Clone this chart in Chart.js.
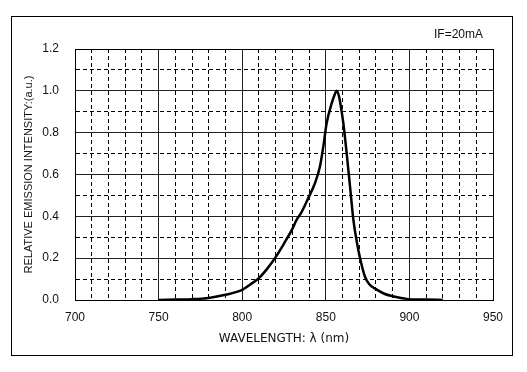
<!DOCTYPE html>
<html>
<head>
    <title>Relative Emission Intensity</title>
    <script src="https://cdn.jsdelivr.net/npm/chart.js"></script>
    <style>
        body {
            margin: 0;
            background-color: #fff;
            font-family: "Liberation Sans", Arial, sans-serif;
        }
        .wrap {
            position: absolute;
            left: 0;
            top: 0;
            width: 527px;
            height: 372px;
        }
        .frame {
            position: absolute;
            left: 11px;
            top: 16px;
            width: 500px;
            height: 338px;
            border: 1px solid #000;
            pointer-events: none;
        }
        .note {
            position: absolute;
            left: 434px;
            top: 27px;
            font-size: 12px;
            color: #111;
        }
    </style>
</head>
<body>
    <div class="wrap">
        <canvas id="spectrumChart"></canvas>
    </div>
    <div class="frame"></div>
    <div class="note">IF=20mA</div>

    <script>
        // wavelength (nm) and relative intensity
        const wavelengths = [750, 760, 770, 780, 790, 800, 805, 810, 815, 820, 825, 830, 832.5, 835.5, 839.5, 843.5, 846.5, 848.5, 850.5, 853.5, 855, 856.5, 858, 859.5, 860.5, 862.5, 864.5, 866.5, 868.5, 870.5, 873.5, 876, 880, 885, 890, 895, 900, 910, 920];
        const intensity = [0.000, 0.002, 0.004, 0.010, 0.025, 0.048, 0.075, 0.105, 0.150, 0.205, 0.270, 0.340, 0.383, 0.420, 0.487, 0.558, 0.638, 0.733, 0.845, 0.940, 0.975, 1.000, 0.970, 0.900, 0.845, 0.700, 0.542, 0.383, 0.280, 0.200, 0.110, 0.075, 0.052, 0.030, 0.018, 0.010, 0.004, 0.002, 0.000];

        const xLabels = ['700', '750', '800', '850', '900', '950'];
        const yLabels = ['0.0', '0.2', '0.4', '0.6', '0.8', '1.0', '1.2'];

        const xMajor = v => Math.round(v) % 50 === 0;
        const yMajor = v => Math.round(v * 10) % 2 === 0;

        function gridColor(isMajor, min, max) {
            return ctx => {
                const v = ctx.tick ? ctx.tick.value : null;
                if (v === null) return '#000';
                if (Math.abs(v - min) < 1e-6 || Math.abs(v - max) < 1e-6) return '#000';
                return isMajor(v) ? '#222' : '#000';
            };
        }
        function gridDash(isMajor) {
            return ctx => {
                if (!ctx.tick) return [];
                return isMajor(ctx.tick.value) ? [] : [4, 3];
            };
        }

        const ctx = document.getElementById('spectrumChart').getContext('2d');
        new Chart(ctx, {
            type: 'line',
            data: {
                datasets: [{
                    data: wavelengths.map((w, i) => ({ x: w, y: intensity[i] })),
                    borderColor: '#000',
                    borderWidth: 2.5,
                    pointRadius: 0,
                    cubicInterpolationMode: 'monotone',
                    fill: false
                }]
            },
            options: {
                responsive: true,
                maintainAspectRatio: false,
                animation: false,
                layout: {
                    padding: { left: 12, top: 49, right: 34, bottom: 0 }
                },
                plugins: {
                    legend: { display: false },
                    tooltip: { enabled: false }
                },
                scales: {
                    x: {
                        type: 'linear',
                        min: 700,
                        max: 950,
                        afterFit: scale => { scale.height = 72; },
                        ticks: {
                            stepSize: 10,
                            autoSkip: false,
                            maxRotation: 0,
                            padding: 10,
                            color: '#111',
                            font: { size: 12, family: '"Liberation Sans", Arial, sans-serif' },
                            callback: v => xMajor(v) ? xLabels[Math.round((v - 700) / 50)] : ''
                        },
                        grid: {
                            drawTicks: false,
                            lineWidth: 1,
                            color: gridColor(xMajor, 700, 950)
                        },
                        border: {
                            color: '#000',
                            width: 1,
                            dash: gridDash(xMajor)
                        },
                        title: {
                            display: true,
                            text: 'WAVELENGTH: λ (nm)',
                            color: '#111',
                            font: { size: 12, family: '"DejaVu Sans", sans-serif' },
                            padding: { top: 0, bottom: 26 }
                        }
                    },
                    y: {
                        min: 0,
                        max: 1.2,
                        afterFit: scale => { scale.width = 63; },
                        ticks: {
                            stepSize: 0.1,
                            autoSkip: false,
                            padding: 16,
                            color: '#111',
                            font: { size: 12, family: '"Liberation Sans", Arial, sans-serif' },
                            callback: v => yMajor(v) ? yLabels[Math.round(v * 5)] : ''
                        },
                        grid: {
                            drawTicks: false,
                            lineWidth: 1,
                            color: gridColor(yMajor, 0, 1.2)
                        },
                        border: {
                            color: '#000',
                            width: 1,
                            dash: gridDash(yMajor)
                        },
                        title: {
                            display: true,
                            text: 'RELATIVE EMISSION INTENSITY:(a.u.)',
                            color: '#111',
                            font: { size: 11, family: '"Liberation Sans", Arial, sans-serif' },
                            padding: { top: 10, bottom: 0 }
                        }
                    }
                }
            }
        });
    </script>
</body>
</html>
